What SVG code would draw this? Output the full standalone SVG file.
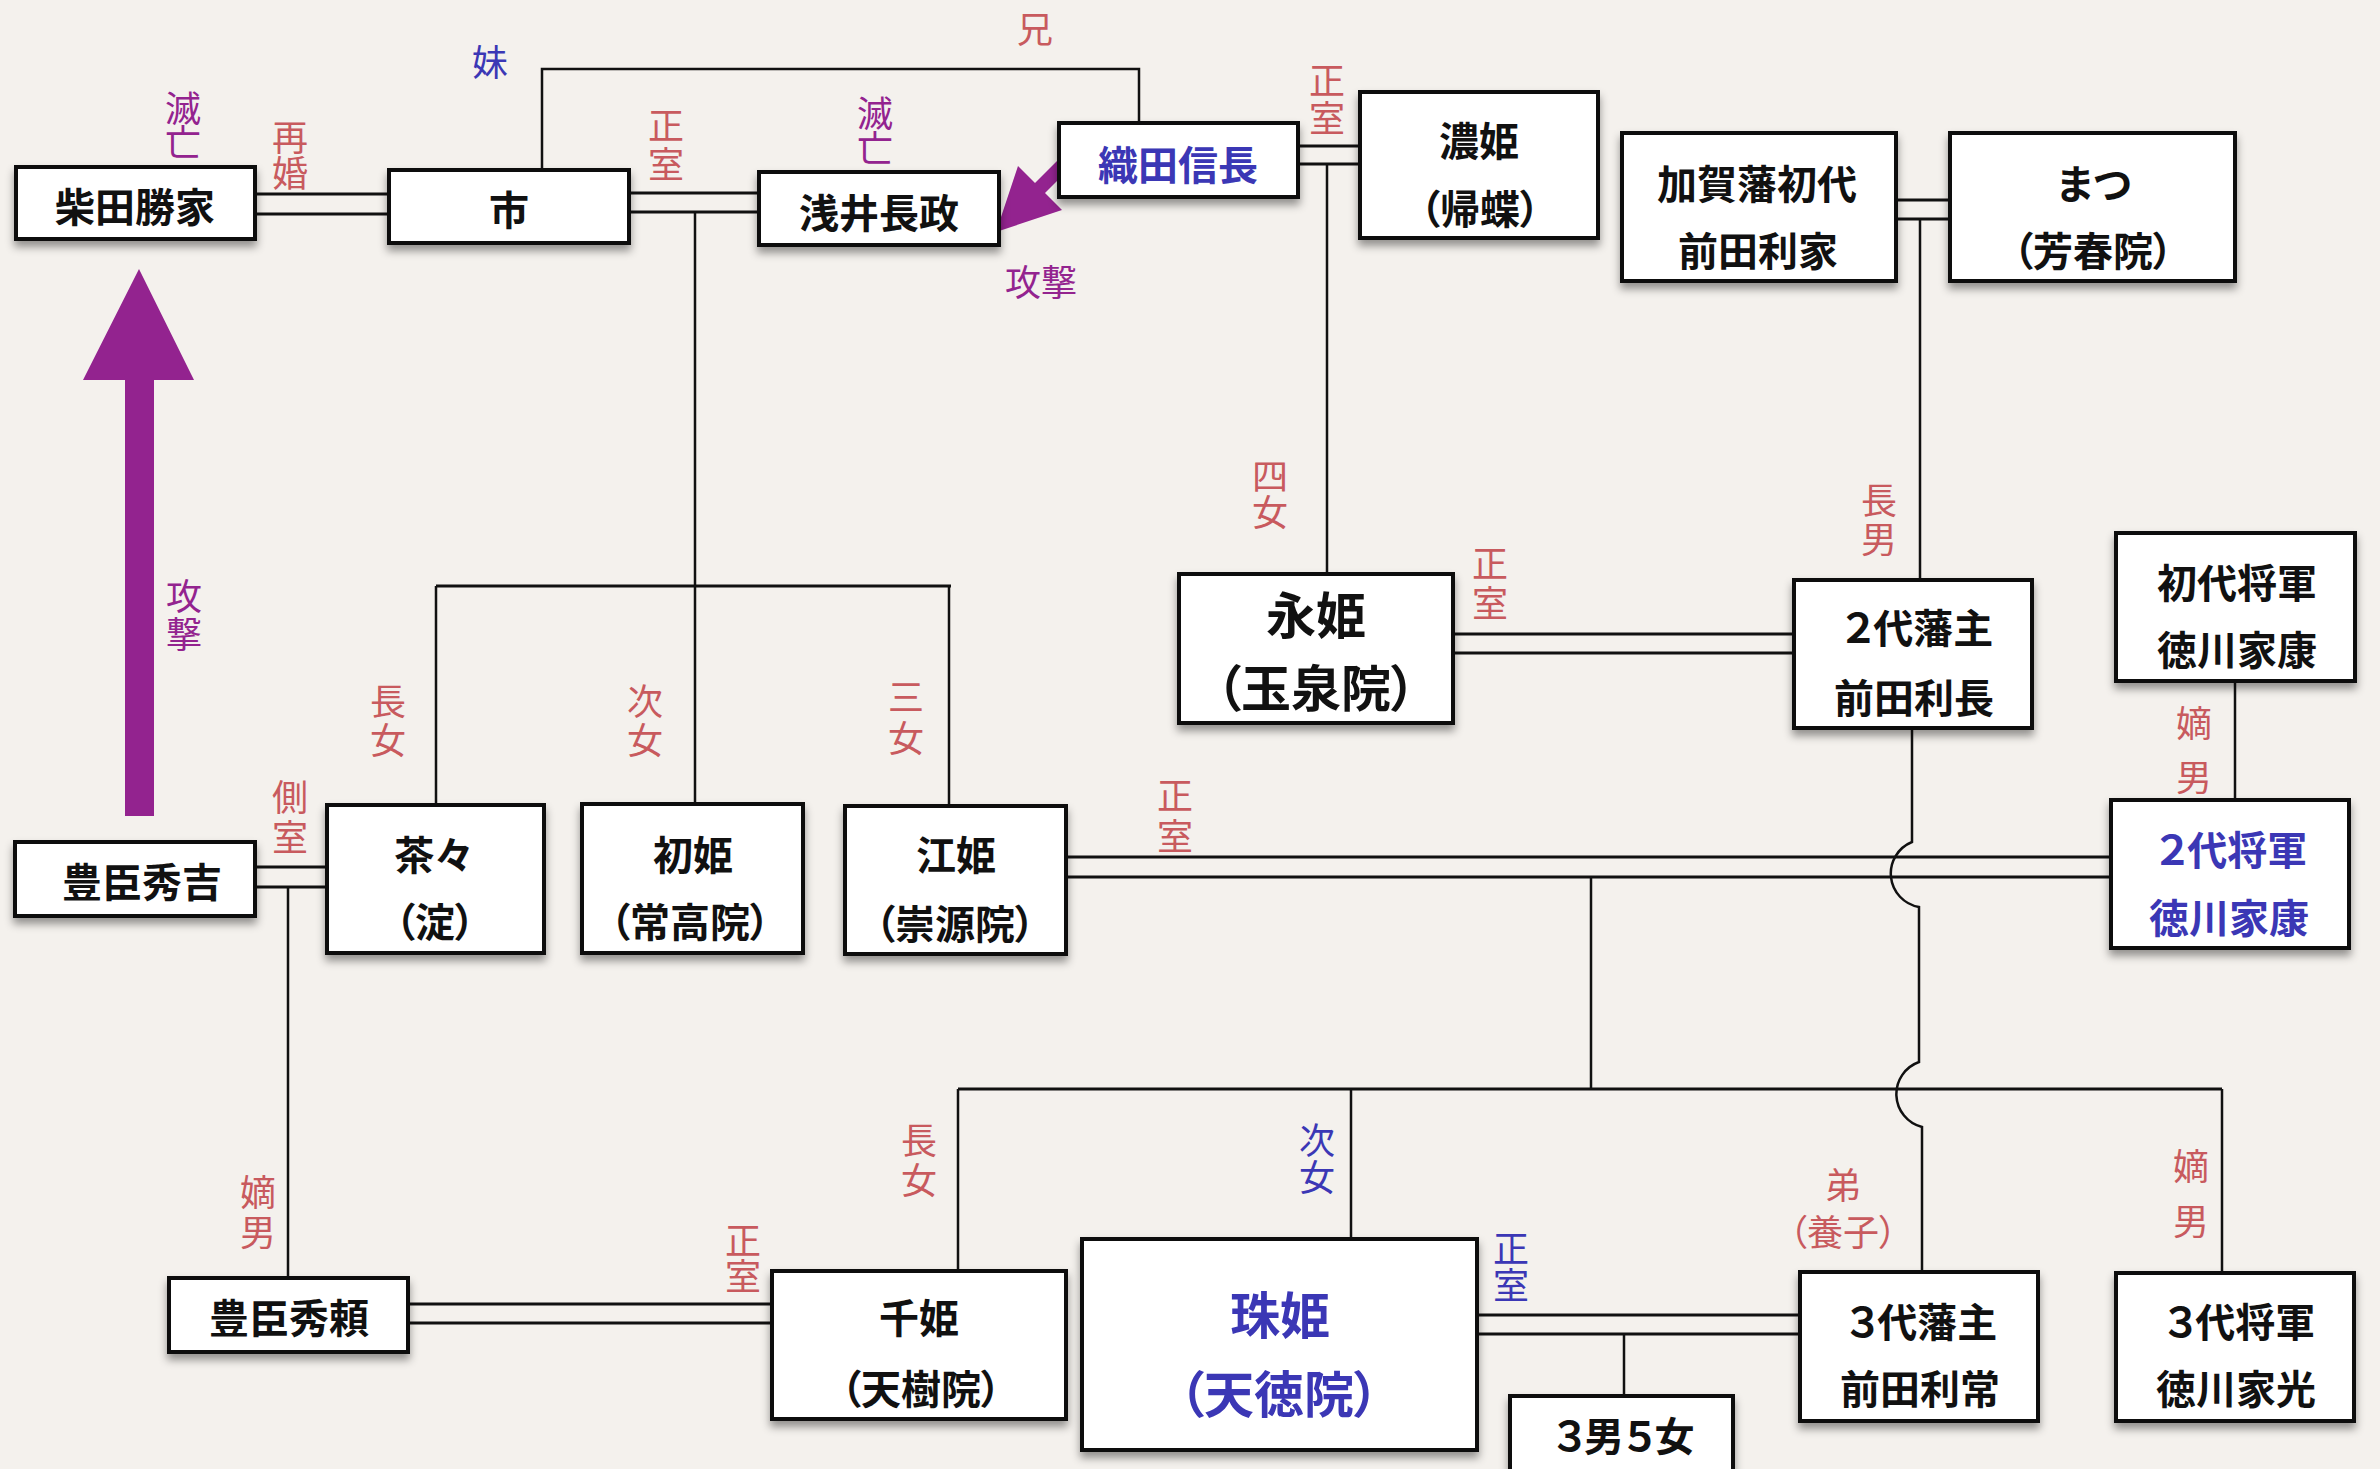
<svg xmlns="http://www.w3.org/2000/svg" width="2380" height="1469" viewBox="0 0 2380 1469">
<defs>
<filter id="sh" x="-10%" y="-10%" width="130%" height="140%"><feDropShadow dx="0" dy="6" stdDeviation="4" flood-color="#000" flood-opacity="0.4"/></filter>
<style>
.bx{fill:#fff;stroke:#111;stroke-width:4;filter:url(#sh)}
.t{font-family:"Noto Sans CJK JP",sans-serif;font-weight:700;font-size:40px;fill:#111;text-anchor:middle;dominant-baseline:central;font-feature-settings:"palt" 1}
.big{font-size:50px}
.blue{fill:#3b37b5}
.lb{font-family:"Noto Sans CJK JP",sans-serif;font-weight:400;font-size:36px;fill:#c85a5e;text-anchor:middle;dominant-baseline:central;font-feature-settings:"palt" 1}
.v{writing-mode:vertical-rl}
.pu{fill:#93238f}
.bl{fill:#3b37b5}
.ln{fill:none;stroke:#111;stroke-width:2.5}
.dl{fill:none;stroke:#111;stroke-width:3}
</style>
</defs>
<rect x="0" y="0" width="2380" height="1469" fill="#f4f1ed"/>

<g id="connectors">
<path class="dl" d="M255,194H389M255,214H389"/>
<path class="dl" d="M629,193H759M629,212H759"/>
<path class="dl" d="M1298,146H1360M1298,164H1360"/>
<path class="dl" d="M1896,200H1950M1896,219H1950"/>
<path class="dl" d="M1453,634H1794M1453,653H1794"/>
<path class="dl" d="M255,867H327M255,887H327"/>
<path class="dl" d="M1066,857H2111M1066,877H2111"/>
<path class="dl" d="M408,1304H772M408,1323H772"/>
<path class="dl" d="M1477,1315H1800M1477,1334H1800"/>
<path class="ln" d="M542,170V69H1139V123"/>
<path class="ln" d="M695,212V804"/>
<path class="dl" d="M436,586H951"/>
<path class="ln" d="M436,586V805M949,586V806"/>
<path class="ln" d="M1327,164V574"/>
<path class="ln" d="M1920,219V580"/>
<path class="ln" d="M2235,681V800"/>
<path class="ln" d="M288,887V1278"/>
<path class="ln" d="M1591,877V1089"/>
<path class="dl" d="M958,1089H2222"/>
<path class="ln" d="M958,1089V1271M1351,1089V1239M2222,1089V1273"/>
<path class="ln" d="M1912,728V842A34,34 0 0 0 1919,907V1062A34,34 0 0 0 1922,1127V1272"/>
<path class="ln" d="M1624,1334V1396"/>
</g>

<g id="arrows" fill="#93238f">
<polygon points="139,269 194,380 154,380 154,816 125,816 125,380 83,380"/>
<polygon points="1060,158 1070,168 1045,193 1062,210 996,232 1018,166 1035,183"/>
</g>

<g id="labels">
<text class="lb v pu" x="183" y="124" letter-spacing="-2">滅亡</text>
<text class="lb v" x="290" y="155">再婚</text>
<text class="lb bl" x="490" y="60">妹</text>
<text class="lb" x="1035" y="27">兄</text>
<text class="lb v" x="666" y="146" letter-spacing="3">正室</text>
<text class="lb v pu" x="875" y="130" letter-spacing="-1">滅亡</text>
<text class="lb v" x="1327" y="100" letter-spacing="2">正室</text>
<text class="lb pu" x="1041" y="280">攻撃</text>
<text class="lb v pu" x="184" y="616" letter-spacing="2">攻撃</text>
<text class="lb v" x="1270" y="494">四女</text>
<text class="lb v" x="1879" y="521" letter-spacing="3">長男</text>
<text class="lb v" x="1490" y="585" letter-spacing="4">正室</text>
<text class="lb v" x="2194" y="759" letter-spacing="18">嫡男</text>
<text class="lb v" x="388" y="722" letter-spacing="3">長女</text>
<text class="lb v" x="645" y="722" letter-spacing="3">次女</text>
<text class="lb v" x="906" y="720" letter-spacing="5">三女</text>
<text class="lb v" x="290" y="819" letter-spacing="4">側室</text>
<text class="lb v" x="1175" y="818" letter-spacing="5">正室</text>
<text class="lb v" x="258" y="1214" letter-spacing="4">嫡男</text>
<text class="lb v" x="743" y="1258">正室</text>
<text class="lb v" x="919" y="1162" letter-spacing="4">長女</text>
<text class="lb v bl" x="1317" y="1159" letter-spacing="1">次女</text>
<text class="lb v bl" x="1511" y="1267" letter-spacing="1">正室</text>
<text class="lb v" x="1843" y="1185">弟</text>
<text class="lb" x="1843" y="1230">（養子）</text>
<text class="lb v" x="2191" y="1203" letter-spacing="19">嫡男</text>
</g>

<g id="n-shibata"><rect class="bx" x="16" y="167" width="239" height="72"/><text class="t" x="135" y="205">柴田勝家</text></g>
<g id="n-ichi"><rect class="bx" x="389" y="170" width="240" height="73"/><text class="t" x="509" y="208">市</text></g>
<g id="n-azai"><rect class="bx" x="759" y="172" width="240" height="73"/><text class="t" x="879" y="211">浅井長政</text></g>
<g id="n-nobunaga"><rect class="bx" x="1059" y="123" width="239" height="74"/><text class="t blue" x="1178" y="163">織田信長</text></g>
<g id="n-nohime"><rect class="bx" x="1360" y="92" width="238" height="146"/><text class="t" x="1479" y="139">濃姫</text><text class="t" x="1480" y="207">（帰蝶）</text></g>
<g id="n-toshiie"><rect class="bx" x="1622" y="133" width="274" height="148"/><text class="t" x="1757" y="182">加賀藩初代</text><text class="t" x="1758" y="249">前田利家</text></g>
<g id="n-matsu"><rect class="bx" x="1950" y="133" width="285" height="148"/><text class="t" x="2094" y="182">まつ</text><text class="t" x="2093" y="249">（芳春院）</text></g>
<g id="n-eihime"><rect class="bx" x="1179" y="574" width="274" height="149"/><text class="t big" x="1316" y="612">永姫</text><text class="t big" x="1316" y="685">（玉泉院）</text></g>
<g id="n-toshinaga"><rect class="bx" x="1794" y="580" width="238" height="148"/><text class="t" x="1918" y="626">２代藩主</text><text class="t" x="1914" y="696">前田利長</text></g>
<g id="n-ieyasu"><rect class="bx" x="2116" y="533" width="239" height="148"/><text class="t" x="2237" y="581">初代将軍</text><text class="t" x="2237" y="648">徳川家康</text></g>
<g id="n-hidetada"><rect class="bx" x="2111" y="800" width="238" height="148"/><text class="t blue" x="2232" y="848">２代将軍</text><text class="t blue" x="2229" y="916">徳川家康</text></g>
<g id="n-hideyoshi"><rect class="bx" x="15" y="842" width="240" height="74"/><text class="t" x="142" y="880">豊臣秀吉</text></g>
<g id="n-chacha"><rect class="bx" x="327" y="805" width="217" height="148"/><text class="t" x="434" y="853">茶々</text><text class="t" x="435" y="920">（淀）</text></g>
<g id="n-hatsu"><rect class="bx" x="582" y="804" width="221" height="149"/><text class="t" x="693" y="853">初姫</text><text class="t" x="690" y="920">（常高院）</text></g>
<g id="n-go"><rect class="bx" x="845" y="806" width="221" height="148"/><text class="t" x="956" y="853">江姫</text><text class="t" x="955" y="922">（崇源院）</text></g>
<g id="n-hideyori"><rect class="bx" x="169" y="1278" width="239" height="74"/><text class="t" x="289" y="1316">豊臣秀頼</text></g>
<g id="n-senhime"><rect class="bx" x="772" y="1271" width="294" height="148"/><text class="t" x="919" y="1316">千姫</text><text class="t" x="921" y="1387">（天樹院）</text></g>
<g id="n-tamahime"><rect class="bx" x="1082" y="1239" width="395" height="211"/><text class="t big blue" x="1280" y="1312">珠姫</text><text class="t big blue" x="1279" y="1391">（天徳院）</text></g>
<g id="n-children"><rect class="bx" x="1510" y="1396" width="223" height="85"/><text class="t" x="1624" y="1434">３男５女</text></g>
<g id="n-toshitsune"><rect class="bx" x="1800" y="1272" width="238" height="149"/><text class="t" x="1922" y="1320">３代藩主</text><text class="t" x="1920" y="1387">前田利常</text></g>
<g id="n-iemitsu"><rect class="bx" x="2116" y="1273" width="238" height="148"/><text class="t" x="2240" y="1320">３代将軍</text><text class="t" x="2236" y="1387">徳川家光</text></g>
</svg>
